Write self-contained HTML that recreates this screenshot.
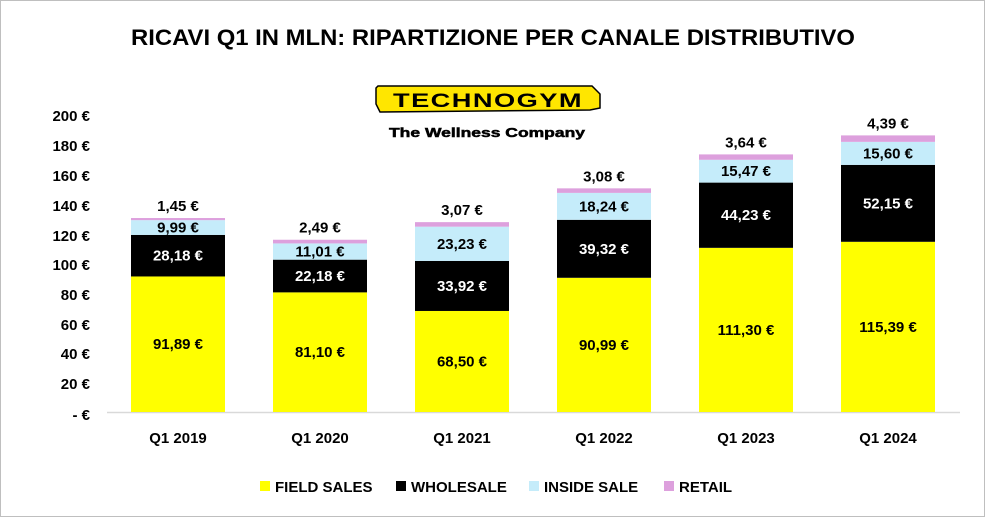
<!DOCTYPE html>
<html><head><meta charset="utf-8"><style>
body{margin:0;background:#fff;}
svg{display:block;font-family:"Liberation Sans",sans-serif;}
</style></head><body>
<svg width="985" height="517" viewBox="0 0 985 517" xmlns="http://www.w3.org/2000/svg">
<rect x="0.5" y="0.5" width="984" height="516" fill="#fff" stroke="#bfbfbf"/>
<text x="493" y="45" text-anchor="middle" font-size="22" font-weight="bold" fill="#000" textLength="724" lengthAdjust="spacingAndGlyphs">RICAVI Q1 IN MLN: RIPARTIZIONE PER CANALE DISTRIBUTIVO</text>
<!-- logo -->
<polygon points="376,88 378,86 592,86 600,94 600,108 590,110 380,112 376,104" fill="#FFE600" stroke="#000" stroke-width="1.5"/>
<text x="488" y="107" text-anchor="middle" font-size="19" font-weight="bold" fill="#000" letter-spacing="1" textLength="190" lengthAdjust="spacingAndGlyphs">TECHNOGYM</text>
<text x="487" y="137" text-anchor="middle" font-size="13" font-weight="bold" fill="#000" textLength="196" lengthAdjust="spacingAndGlyphs" stroke="#000" stroke-width="0.5">The Wellness Company</text>
<!-- axis labels -->
<g font-size="15" font-weight="bold" text-anchor="end" fill="#000">
<text x="90" y="121">200 €</text><text x="90" y="151">180 €</text><text x="90" y="181">160 €</text>
<text x="90" y="211">140 €</text><text x="90" y="241">120 €</text><text x="90" y="270">100 €</text>
<text x="90" y="300">80 €</text><text x="90" y="330">60 €</text><text x="90" y="359">40 €</text>
<text x="90" y="389">20 €</text><text x="90" y="420">- €</text>
</g>
<line x1="107" y1="412.5" x2="960" y2="412.5" stroke="#d9d9d9" stroke-width="1.5"/>
<g id="bars"></g>
<g font-size="15" font-weight="bold" text-anchor="middle" fill="#000">
<text x="178" y="443">Q1 2019</text><text x="320" y="443">Q1 2020</text><text x="462" y="443">Q1 2021</text>
<text x="604" y="443">Q1 2022</text><text x="746" y="443">Q1 2023</text><text x="888" y="443">Q1 2024</text>
</g>
<!-- legend -->
<g font-size="15" font-weight="bold" fill="#000">
<rect x="260" y="481" width="10" height="10" fill="#FFFF00"/><text x="275" y="492">FIELD SALES</text>
<rect x="396" y="481" width="10" height="10" fill="#000"/><text x="411" y="492">WHOLESALE</text>
<rect x="529" y="481" width="10" height="10" fill="#C5ECFA"/><text x="544" y="492">INSIDE SALE</text>
<rect x="664" y="481" width="10" height="10" fill="#DDA0DD"/><text x="679" y="492">RETAIL</text>
</g>
</svg>
<script>
var d=[[91.89,28.18,9.99,1.45],[81.10,22.18,11.01,2.49],[68.50,33.92,23.23,3.07],[90.99,39.32,18.24,3.08],[111.30,44.23,15.47,3.64],[115.39,52.15,15.60,4.39]];
var cols=["#FFFF00","#000000","#C5ECFA","#DDA0DD"],tc=["#000","#fff","#000","#000"];
var g=document.getElementById("bars"),ns="http://www.w3.org/2000/svg",s=1.475,b=412;
function f(v){return v.toFixed(2).replace(".",",")+" €";}
d.forEach(function(r,i){var cx=178+142*i,x=cx-47,y=b;
r.forEach(function(v,j){var h=v*s;y-=h;var re=document.createElementNS(ns,"rect");
re.setAttribute("x",x);re.setAttribute("y",y);re.setAttribute("width",94);re.setAttribute("height",h);re.setAttribute("fill",cols[j]);g.appendChild(re);
var t=document.createElementNS(ns,"text");t.setAttribute("x",cx);t.setAttribute("text-anchor","middle");t.setAttribute("font-size","15");t.setAttribute("font-weight","bold");
if(j<3){t.setAttribute("y",y+h/2+5);t.setAttribute("fill",tc[j]);}else{t.setAttribute("y",y-7);t.setAttribute("fill","#000");}
t.textContent=f(v);g.appendChild(t);});});
</script>
</body></html>
